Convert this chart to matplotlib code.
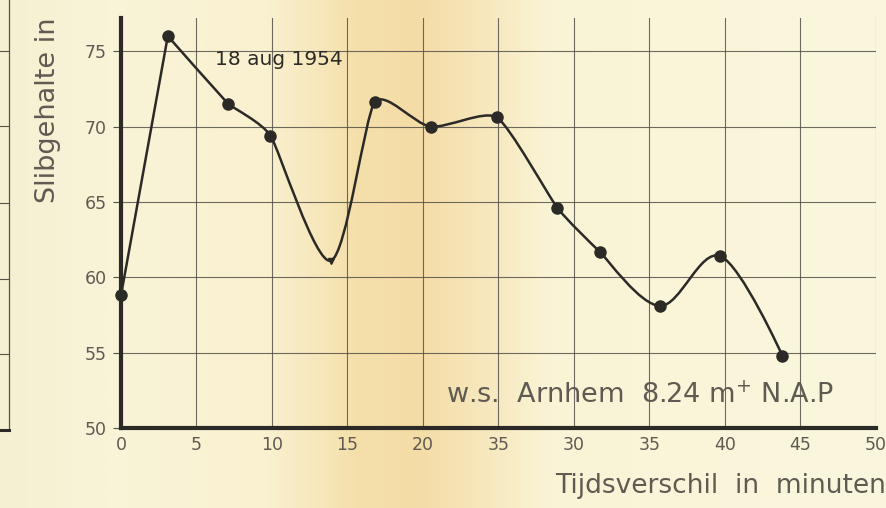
import numpy as np
import matplotlib
matplotlib.use("Agg")
import matplotlib.pyplot as plt
from matplotlib.path import Path
from matplotlib.patches import PathPatch
from matplotlib.lines import Line2D

# Data
minutes = [0.0, 3.1, 7.1, 9.9, 13.9, 16.8, 20.5, 24.9, 28.9, 31.7, 35.7, 39.7, 43.8]
slib = [58.8, 76.0, 71.5, 69.4, 61.1, 71.6, 70.0, 70.6, 64.6, 61.7, 58.1, 61.4, 54.8]
dot_shown = [True, True, True, True, False, True, True, True, True, True, True, True, True]

x_ticks = [0, 5, 10, 15, 20, 25, 30, 35, 40, 45, 50]
x_tick_labels = ["0", "5", "10", "15", "20", "35", "30", "35", "40", "45", "50"]
y_ticks = [50, 55, 60, 65, 70, 75]

# how rounded the hand-drawn curve is at each point (0 = sharp corner)
bend = [0.0, 0.0, 0.2, 0.5, 0.9, 0.6, 0.8, 0.6, 0.5, 0.5, 1.0, 1.0, 0.0]

ink = "#2b2a26"
grid_ink = "#55524a"
label_ink = "#5f5b52"
plt.rcParams["font.family"] = ["DejaVu Sans"]


def smooth_path(xs, ys, k):
    # Catmull-Rom style curve through the measured points, as bezier segments
    pts = np.column_stack([xs, ys])
    n = len(pts)
    tang = []
    for i in range(n):
        p0 = pts[max(i - 1, 0)]
        p2 = pts[min(i + 1, n - 1)]
        tang.append((p2 - p0) / 6.0 * k[i])
    verts = [pts[0]]
    codes = [Path.MOVETO]
    for i in range(n - 1):
        verts += [pts[i] + tang[i], pts[i + 1] - tang[i + 1], pts[i + 1]]
        codes += [Path.CURVE4] * 3
    return Path(verts, codes)


fig = plt.figure(figsize=(8.87, 5.08), dpi=100)

# paper background with a yellowed band
bg = fig.add_axes([0, 0, 1, 1], zorder=-10)
stops = [0.0, 0.12, 0.30, 0.40, 0.47, 0.55, 0.62, 1.0]
cols = np.array([
    [246, 240, 210], [249, 244, 216], [249, 241, 208], [245, 224, 172],
    [244, 220, 166], [247, 232, 190], [250, 244, 214], [251, 247, 222],
]) / 255.0
xs = np.linspace(0, 1, 900)
strip = np.stack([np.interp(xs, stops, cols[:, c]) for c in range(3)], axis=-1)
bg.imshow(strip[np.newaxis, :, :], aspect="auto", extent=[0, 1, 0, 1],
          interpolation="bilinear")
bg.set_xlim(0, 1)
bg.set_ylim(0, 1)
bg.axis("off")

# fragment of the neighbouring chart at the left edge
fig.add_artist(Line2D([9 / 887, 9 / 887], [1.0, 1 - 430 / 508],
                      transform=fig.transFigure, color=grid_ink, lw=0.9))
fig.add_artist(Line2D([0, 9 / 887], [1 - 430 / 508, 1 - 430 / 508],
                      transform=fig.transFigure, color=ink, lw=2.2))
for py in [51, 126, 203, 279, 354]:
    fig.add_artist(Line2D([0, 9 / 887], [1 - py / 508, 1 - py / 508],
                          transform=fig.transFigure, color=grid_ink, lw=0.8))

ax = fig.add_axes([121 / 887, 1 - 428 / 508, (876 - 121) / 887, (428 - 18) / 508])
ax.patch.set_alpha(0)
ax.set_xlim(0, 50)
ax.set_ylim(50, 77.2)

ax.set_xticks(x_ticks)
ax.set_xticklabels(x_tick_labels)
ax.set_yticks(y_ticks)
ax.tick_params(axis="x", length=0, labelsize=12.5, labelcolor=label_ink, pad=6)
ax.tick_params(axis="y", length=6, width=0.8, color=grid_ink, labelsize=12.5,
               labelcolor=label_ink, pad=4)

ax.grid(True, color=grid_ink, lw=0.8, alpha=0.85)
for side in ["top", "right"]:
    ax.spines[side].set_visible(False)
for side in ["left", "bottom"]:
    ax.spines[side].set_linewidth(3)
    ax.spines[side].set_color(ink)

ax.add_patch(PathPatch(smooth_path(minutes, slib, bend), fill=False, edgecolor=ink,
                       lw=1.8, zorder=3, capstyle="round", joinstyle="round"))
mx = [m for m, d in zip(minutes, dot_shown) if d]
my = [s for s, d in zip(slib, dot_shown) if d]
ax.plot(mx, my, "o", color=ink, ms=8, zorder=4, clip_on=False)
ax.plot([minutes[4]], [slib[4]], "v", color=ink, ms=4, zorder=4)

ax.text(6.2, 74.1, "18 aug 1954", fontsize=14.5, color=ink, va="baseline")
ax.text(21.5, 51.65, "w.s.  Arnhem  8.24 m$^{+}$ N.A.P", fontsize=19.5,
        color=label_ink, va="baseline")

fig.text(48 / 887, 1 - 203 / 508, "Slibgehalte in", rotation=90,
         fontsize=19.5, color=label_ink, ha="center", va="bottom")
fig.text(555 / 887, 1 - 486 / 508, "Tijdsverschil  in  minuten", fontsize=19,
         color=label_ink, ha="left", va="center")

fig.savefig("out.png", dpi=100)
